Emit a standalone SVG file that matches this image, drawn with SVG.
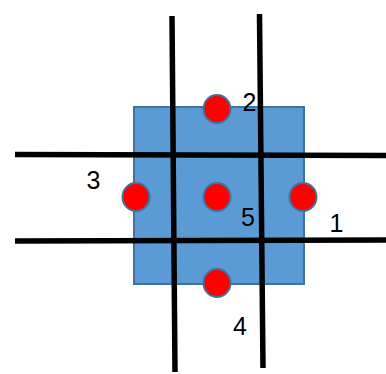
<svg xmlns="http://www.w3.org/2000/svg" width="386" height="374" viewBox="0 0 386 374">
<style>
.sq{fill:#5B9BD5;stroke:#41719C;stroke-width:2}
.dot{fill:#FF0000;stroke:#41719C;stroke-width:2}
.ln{stroke:#000;stroke-width:5.5;fill:none}
.lb{font-family:"Liberation Sans",Arial,sans-serif;font-size:25px;fill:#000;text-anchor:middle}
</style>
<rect width="386" height="374" fill="#fff"/>
<g id="square"><rect class="sq" x="134" y="107" width="170" height="177"/></g>
<g id="connectors">
<line class="ln" x1="172" y1="16" x2="175" y2="372"/>
<line class="ln" x1="259.5" y1="14" x2="263" y2="368"/>
<line class="ln" x1="15" y1="154.5" x2="386" y2="155.5"/>
<line class="ln" x1="15" y1="241" x2="386" y2="240"/>
</g>
<g id="dot2"><ellipse class="dot" cx="217" cy="109" rx="13.5" ry="14"/></g>
<g id="dot3"><ellipse class="dot" cx="136" cy="197" rx="13.5" ry="14"/></g>
<g id="dot5"><ellipse class="dot" cx="217" cy="197" rx="13.5" ry="14"/></g>
<g id="dot1"><ellipse class="dot" cx="303" cy="197" rx="13.5" ry="14"/></g>
<g id="dot4"><ellipse class="dot" cx="217" cy="283" rx="13.5" ry="14"/></g>
<g id="labels">
<text class="lb" x="249.5" y="111">2</text>
<text class="lb" x="93.5" y="189">3</text>
<text class="lb" x="248" y="226">5</text>
<text class="lb" x="336.5" y="232">1</text>
<text class="lb" x="240" y="335">4</text>
</g>
</svg>
